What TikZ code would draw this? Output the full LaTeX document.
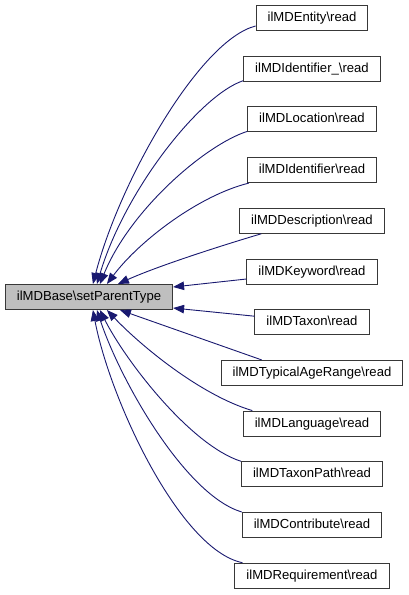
\documentclass[tikz,border=0pt]{standalone}
\usepackage{fontspec}
\setmainfont{Liberation Sans}
\usetikzlibrary{arrows.meta}
\definecolor{edgeblue}{HTML}{191970}
\definecolor{boxline}{HTML}{383838}
\definecolor{basefill}{HTML}{BFBFBF}
\begin{document}
\begin{tikzpicture}[x=1pt,y=-1pt,
  fn/.style={draw=boxline, line width=1pt, fill=white, inner xsep=11.5pt, inner ysep=0pt,
    minimum height=25pt, font=\fontsize{13.1}{15}\selectfont, text height=9.6pt, text depth=2.6pt},
  basebox/.style={fn, fill=basefill},
  edge/.style={draw=edgeblue, line width=0.9pt, -{Triangle[length=11pt,width=8.5pt]}}]
\useasboundingbox[fill=white] (0,0) rectangle (408,595);
\node[basebox] (base) at (89,297) {ilMDBase\textbackslash setParentType};
\node[fn] (e1) at (312,18) {ilMDEntity\textbackslash read};
\node[fn] (e2) at (312,68.7) {ilMDIdentifier\_\textbackslash read};
\node[fn] (e3) at (312,119.4) {ilMDLocation\textbackslash read};
\node[fn] (e4) at (312,170.1) {ilMDIdentifier\textbackslash read};
\node[fn] (e5) at (312,220.8) {ilMDDescription\textbackslash read};
\node[fn] (e6) at (312,271.5) {ilMDKeyword\textbackslash read};
\node[fn] (e7) at (312,322.2) {ilMDTaxon\textbackslash read};
\node[fn] (e8) at (312,372.9) {ilMDTypicalAgeRange\textbackslash read};
\node[fn] (e9) at (312,423.6) {ilMDLanguage\textbackslash read};
\node[fn] (e10) at (312,474.3) {ilMDTaxonPath\textbackslash read};
\node[fn] (e11) at (312,525) {ilMDContribute\textbackslash read};
\node[fn] (e12) at (312,575.7) {ilMDRequirement\textbackslash read};
% upper callers
\draw[edge] ([yshift=-8pt]e1.west) .. controls (200,40) and (120,180) .. ([xshift=88pt]base.north west);
\draw[edge] ([yshift=1pt]e2.south west) .. controls (200,95) and (125,190) .. ([xshift=92pt]base.north west);
\draw[edge] ([yshift=1pt]e3.south west) .. controls (205,145) and (130,210) .. ([xshift=95pt]base.north west);
\draw[edge] ([xshift=2pt]e4.south west) .. controls (200,195) and (140,240) .. ([xshift=102pt]base.north west);
\draw[edge] ([xshift=22pt]e5.south west) .. controls (230,243) and (160,265) .. ([xshift=113pt]base.north west);
\draw[edge] ([yshift=-7.5pt]e6.west) -- ([yshift=-3pt]base.north east);
\draw[edge] ([yshift=6pt]e7.west) -- ([yshift=2pt]base.south east);
% lower callers
\draw[edge] ([xshift=41pt]e8.north west) -- ([xshift=115pt]base.south west);
\draw[edge] ([xshift=9.5pt]e9.north west) .. controls (200,395) and (140,345) .. ([xshift=102pt]base.south west);
\draw[edge] (e10.north west) .. controls (190,445) and (125,360) .. ([xshift=95pt]base.south west);
\draw[edge] (e11.north west) .. controls (185,495) and (120,380) .. ([xshift=92pt]base.south west);
\draw[edge] ([xshift=8pt]e12.north west) .. controls (180,550) and (110,400) .. ([xshift=88pt]base.south west);
\end{tikzpicture}
\end{document}
